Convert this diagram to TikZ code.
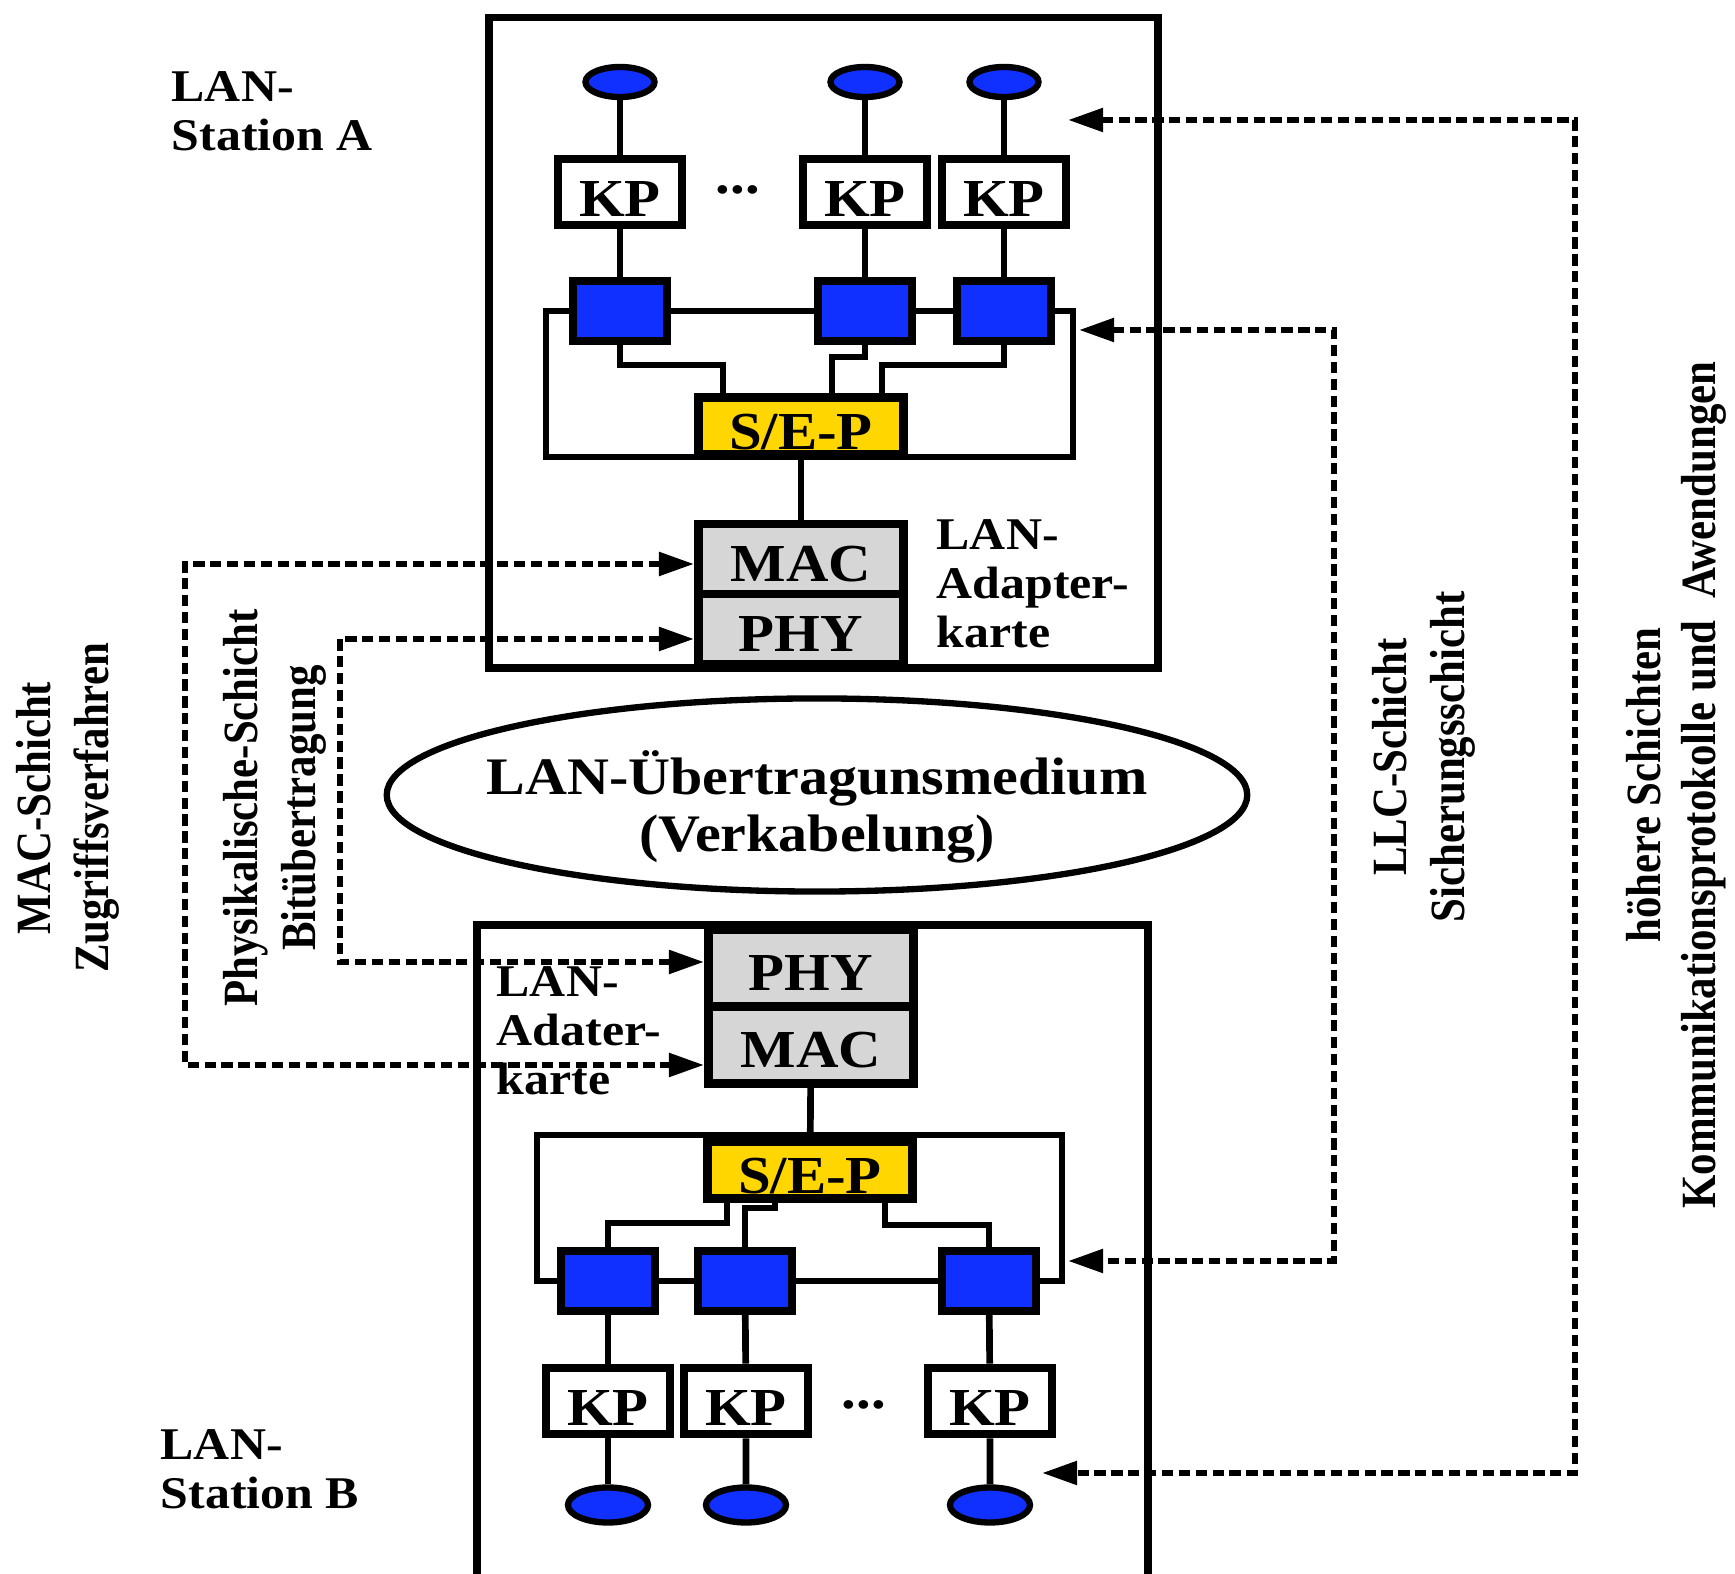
\documentclass[tikz,border=0pt]{standalone}
\usepackage{fontspec}
\setmainfont{Liberation Serif}
\newfontfamily\widefont[FakeStretch=1.1]{Liberation Serif}
\newfontfamily\narrowfont[FakeStretch=0.87]{Liberation Serif}
\usetikzlibrary{arrows.meta,shapes.geometric}
\definecolor{portblue}{RGB}{16,48,255}
\definecolor{sepyellow}{RGB}{255,214,0}
\definecolor{chipgray}{RGB}{214,214,214}
\newcommand{\boxfont}{\widefont\bfseries\fontsize{15.2}{16}\selectfont}
\newcommand{\lblfont}{\widefont\bfseries\fontsize{12.9}{14}\selectfont}
\newcommand{\medfont}{\widefont\bfseries\fontsize{15}{16.2}\selectfont}
\newcommand{\sidefont}{\narrowfont\bfseries\fontsize{14}{16.5}\selectfont}
\begin{document}
\begin{tikzpicture}[x=0.01cm, y=-0.01cm, >={Triangle[length=10pt,width=6.5pt]},
  frame/.style={line width=2pt},
  wire/.style={line width=1.9pt},
  layer/.style={line width=1.7pt, dash pattern=on 3.2pt off 1.6pt, <->},
  kp/.style={draw, line width=2.5pt, fill=white, minimum width=1.24cm, minimum height=0.66cm, inner sep=0pt, text height=14pt, font=\boxfont},
  port/.style={draw, line width=2.3pt, fill=portblue, minimum width=0.94cm, minimum height=0.6cm, inner sep=0pt},
  user/.style={draw, ellipse, line width=1.8pt, fill=portblue, inner sep=0pt},
  sep/.style={draw, line width=2.5pt, fill=sepyellow, minimum width=2.05cm, minimum height=0.57cm, inner sep=0pt, text height=13.5pt, font=\boxfont},
  chip/.style={draw, line width=2.5pt, fill=chipgray, minimum width=2.05cm, minimum height=0.7cm, inner sep=0pt, text height=13pt, font=\boxfont},
  lbl/.style={align=left, anchor=west, inner sep=0pt, font=\lblfont},
  side/.style={rotate=90, align=center, inner sep=0pt, font=\sidefont}]
\useasboundingbox (0,0) rectangle (1735,1574);

% station A
\draw[frame] (489,18) rectangle (1158,668);
\node[lbl] (stA) at (171,111) {LAN-\\Station A};
\node[user, minimum width=0.69cm, minimum height=0.3cm] (usA1) at (620,82) {};
\node[user, minimum width=0.69cm, minimum height=0.3cm] (usA2) at (865,82) {};
\node[user, minimum width=0.69cm, minimum height=0.3cm] (usA3) at (1004,82) {};
\node[kp] (kpA1) at (620,192) {KP};
\node[kp] (kpA2) at (865,192) {KP};
\node[kp] (kpA3) at (1004,192) {KP};
\node[font=\boxfont, anchor=base] (dotsA) at (738,194) {...};
\node[port] (sqA1) at (620,311) {};
\node[port] (sqA2) at (865,311) {};
\node[port] (sqA3) at (1004,311) {};
\node[sep] (sepA) at (801,426) {S/E-P};
\node[chip] (macA) at (801,559) {MAC};
\node[chip] (phyA) at (801,629) {PHY};
\node[lbl] (adA) at (936,584) {LAN-\\Adapter-\\karte};
\foreach \i in {1,2,3}
  \draw[wire] (usA\i) -- (kpA\i) -- (sqA\i);
\draw[wire] (sqA1) -- (sqA2) -- (sqA3);
\draw[wire] (sqA1.west) -| (546,457) -- (1073,457) |- (sqA3.east);
\coordinate (a1) at (723,365);
\coordinate (a2) at (832,357);
\coordinate (a3) at (882,365);
\foreach \i in {1,2,3}
  \draw[wire] (sqA\i.south) |- (a\i) -- (a\i |- sepA.north);
\draw[wire] (sepA) -- (macA);

% medium
\node[draw, ellipse, line width=1.8pt, minimum width=8.6cm, minimum height=1.93cm] (medium) at (817,795) {};
\node[align=center, font=\medfont] (mediumtxt) at (817,807) {LAN-Übertragunsmedium\\(Verkabelung)};

% station B
\draw[frame] (477,925) rectangle (1148,1610);
\node[lbl] (stB) at (160,1469) {LAN-\\Station B};
\node[chip, minimum height=0.77cm] (phyB) at (811,968) {PHY};
\node[chip, minimum height=0.77cm] (macB) at (811,1045) {MAC};
\node[lbl] (adB) at (496,1031) {LAN-\\Adater-\\karte};
\node[sep] (sepB) at (810,1170) {S/E-P};
\node[port] (sqB1) at (608,1281) {};
\node[port] (sqB2) at (745,1281) {};
\node[port] (sqB3) at (989,1281) {};
\node[kp] (kpB1) at (608,1401) {KP};
\node[kp] (kpB2) at (746,1401) {KP};
\node[kp] (kpB3) at (990,1401) {KP};
\node[font=\boxfont, anchor=base] (dotsB) at (864,1409) {...};
\node[user, minimum width=0.8cm, minimum height=0.35cm] (usB1) at (608,1505) {};
\node[user, minimum width=0.8cm, minimum height=0.35cm] (usB2) at (746,1505) {};
\node[user, minimum width=0.8cm, minimum height=0.35cm] (usB3) at (990,1505) {};
\foreach \i in {1,2,3}
  \draw[wire] (sqB\i) -- (kpB\i) -- (usB\i);
\draw[wire] (sqB1) -- (sqB2) -- (sqB3);
\draw[wire] (sqB1.west) -| (537,1135) -- (1062,1135) |- (sqB3.east);
\coordinate (b1) at (727,1223);
\coordinate (b2) at (775,1208);
\coordinate (b3) at (885,1225);
\foreach \i in {1,2,3}
  \draw[wire] (sqB\i.north) |- (b\i) -- (b\i |- sepB.south);
\draw[wire] (macB) -- (sepB);

% layers
\coordinate (llcA) at (1079,330);
\coordinate (llcB) at (1068,1261);
\coordinate (hiA) at (1068,120);
\coordinate (hiB) at (1042,1473);
\draw[layer] ([yshift=-0.05cm]macA.west) -| (185,800) |- ([yshift=-0.2cm]macB.west);
\draw[layer] ([yshift=-0.1cm]phyA.west) -| (340,800) |- ([yshift=0.06cm]phyB.west);
\draw[layer] (llcA) -| (1334,800) |- (llcB);
\draw[layer] (hiA) -| (1575,800) |- (hiB);
\node[side] (macL) at (68,808) {MAC-Schicht\\Zugriffsverfahren};
\node[side] (phyL) at (275,808) {Physikalische-Schicht\\Bitübertragung};
\node[side] (llcL) at (1424,757) {LLC-Schicht\\Sicherungsschicht};
\node[side, font=\narrowfont\bfseries\fontsize{14}{15.6}\selectfont] (hiL) at (1676,785) {höhere Schichten\\Kommunikationsprotokolle und~~Awendungen};
\end{tikzpicture}
\end{document}
